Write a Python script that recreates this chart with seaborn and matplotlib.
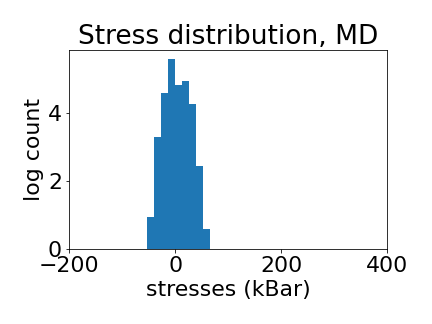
import numpy as np
import seaborn as sns
from matplotlib import pyplot as plt

# histogram of stresses, bin edges (kBar) and log count per bin
bin_edges = [-52.8, -39.6, -26.4, -13.2, 0.0, 13.2, 26.4, 39.6, 52.8, 66.0]
log_counts = [0.95, 3.29, 4.59, 5.59, 4.85, 4.94, 4.29, 2.44, 0.59]

plt.rcParams['font.size'] = 22

centers = [(a + b) / 2 for a, b in zip(bin_edges[:-1], bin_edges[1:])]

fig = plt.figure(figsize=(6, 4.5), dpi=72)
ax = fig.add_axes([0.16, 0.231, 0.736, 0.615])
sns.histplot(x=centers, weights=log_counts, bins=bin_edges, ax=ax,
             color='#1f77b4', alpha=1, edgecolor='none', linewidth=0)
ax.set_xlim(-200, 400)
ax.set_xticks([-200, 0, 200, 400])
ax.set_yticks([0, 2, 4])
ax.set_xlabel('stresses (kBar)')
ax.set_ylabel('log count')
ax.set_title('Stress distribution, MD')

plt.savefig('out.png')
